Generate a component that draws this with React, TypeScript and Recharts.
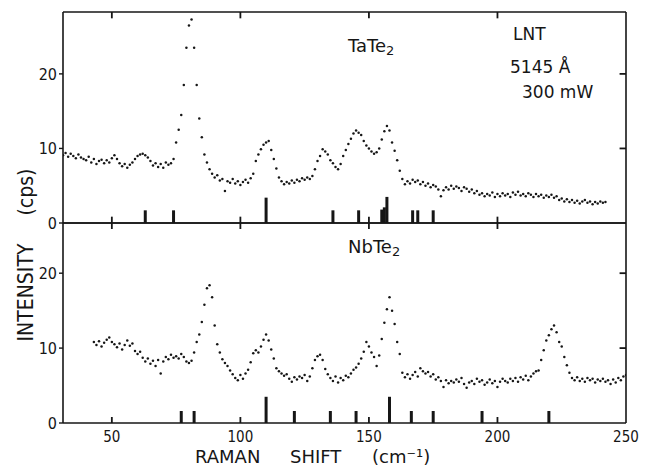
import React from 'react';
import { ScatterChart, Scatter, XAxis, YAxis, ReferenceLine } from 'recharts';

// Raman shift grid (cm-1) and intensities (cps) at 1 cm-1 steps
const tateStart = 30;
const tateCounts = [
  9.6, 9.1, 9.4, 8.9, 9.3, 9.0, 8.7, 9.2, 8.8, 8.6,
  8.4, 8.9, 8.1, 8.6, 7.9, 8.3, 8.5, 8.0, 8.4, 8.1,
  8.7, 9.1, 8.6, 8.0, 7.6, 7.9, 7.4, 7.8, 8.1,
  8.6, 9.0, 9.2, 9.3, 9.1, 8.8,
  8.3, 7.7, 8.0, 7.5, 7.9, 7.4, 8.1, 7.8, 8.0,
  8.6, 10.8, 12.5, 14.5, 18.5, 23.5, 26.5, 27.3, 23.5, 18.5,
  14.0, 11.5, 9.2, 8.1, 7.2, 6.6, 6.1, 6.4, 5.7, 5.9,
  4.3, 5.6, 5.4, 5.9, 5.3, 5.6, 5.1, 5.5, 5.8, 5.4,
  6.0, 6.6, 8.3, 9.2, 9.9, 10.5, 10.8, 11.0, 9.8, 8.6,
  7.3, 6.1, 5.6, 5.2, 5.5, 5.3, 5.7, 5.4, 5.8, 5.6,
  6.0, 5.8, 6.1, 5.9, 6.3, 7.2, 8.3, 9.0, 9.9, 9.6,
  9.2, 8.4, 8.0, 7.5, 7.2, 7.9, 9.0, 9.8, 10.6, 11.3,
  12.0, 12.4, 12.1, 11.8, 11.0, 10.4, 10.0, 9.6, 9.3, 9.5,
  10.0, 11.2, 12.3, 13.0, 12.4, 10.8, 9.7, 8.4, 7.0, 5.9,
  5.2, 5.6, 5.3, 5.8, 5.5, 5.7, 5.2, 5.5, 5.0, 5.3,
  4.8, 5.1, 4.9, 4.5, 3.6, 4.4, 4.8, 4.5, 5.0, 4.6,
  4.9, 4.7, 4.3, 4.8, 4.6, 4.2, 4.5, 4.0, 4.3, 3.8,
  4.0, 3.6, 3.9, 3.7, 4.1, 3.5, 3.9, 3.6, 4.0, 3.7,
  3.9, 3.5, 4.1, 3.8, 4.2, 3.7, 3.9, 3.6, 4.0, 3.8,
  3.5, 3.9, 3.6, 3.8, 3.4, 3.7, 3.5, 3.8, 3.4, 3.6,
  3.1, 3.3, 2.9, 3.2, 2.8, 3.1, 2.7, 3.0, 2.6, 2.9,
  3.1, 2.7, 2.9, 2.5, 2.8, 2.6, 2.9, 2.7, 2.8,
];

const nbteStart = 43;
const nbteCounts = [
  10.8, 10.4, 10.9, 10.2, 10.7, 11.1, 11.4,
  10.8, 10.5, 10.1, 10.6, 9.8, 10.4, 11.0, 10.3, 10.6, 9.6,
  9.2, 9.5, 8.7, 8.2, 8.6, 7.9, 8.3, 7.6, 8.4, 6.6,
  8.2, 8.8, 8.5, 9.1, 8.7, 8.9, 8.6, 9.2, 8.8, 8.2,
  8.0, 8.3, 9.4, 10.8, 11.8, 13.5, 15.8, 18.0, 18.4, 16.8,
  13.0, 10.5, 9.4, 8.5, 8.0, 7.6, 7.0, 6.5, 6.0, 5.7,
  6.4, 5.9, 6.6, 7.1, 8.1, 9.3, 9.7, 9.4, 10.2, 11.1,
  11.8, 11.0, 9.8, 8.6, 7.3, 6.9, 6.6, 6.3, 6.5, 5.9,
  5.5, 6.1, 5.8, 6.2, 6.0, 6.4, 5.6, 6.2, 7.3, 8.4,
  8.9, 9.1, 8.4, 7.2, 6.5, 6.0, 5.6, 6.2, 5.4, 6.0,
  5.7, 6.3, 6.1, 6.6, 7.1, 7.4, 7.9, 8.6, 9.5, 10.8,
  10.2, 9.4, 8.8, 7.6, 9.0, 11.2, 13.4, 15.2, 16.8, 15.0,
  13.2, 10.8, 9.2, 6.7, 6.1, 6.5, 5.9, 6.4, 6.8, 6.2,
  7.3, 6.9, 6.6, 6.8, 6.2, 6.5, 5.8, 6.1, 5.6, 4.8,
  5.7, 5.3, 5.6, 5.4, 5.8, 5.5, 6.0, 5.2, 4.7, 5.4,
  5.6, 5.2, 5.9, 5.5, 5.7, 5.1, 5.4, 5.8, 5.3, 5.6,
  4.8, 5.5, 5.9, 5.6, 5.4, 5.9, 5.6, 6.0, 5.5, 6.1,
  5.8, 6.3, 5.7, 6.2, 6.6, 6.9, 7.0, 8.4, 9.7, 11.0,
  11.7, 12.5, 13.0, 12.1, 10.8, 10.2, 8.8, 7.7, 6.7, 6.0,
  5.7, 6.1, 5.6, 5.9, 5.5, 6.0, 5.7, 5.9, 5.4, 5.8,
  5.6, 5.9, 5.5, 5.7, 5.2, 5.8, 5.4, 6.0, 5.7, 6.2,
  6.4,
];

// calculated mode positions (stick marks) and their heights
const tateModes = [63, 74, 110, 136, 146, 155, 156, 157, 167, 169, 175];
const tateModeHeights = [1.7, 1.7, 3.4, 1.7, 1.7, 1.8, 2.1, 3.5, 1.7, 1.7, 1.7];
const nbteModes = [77, 82, 110, 121, 135, 145, 158, 166.5, 175, 194, 220];
const nbteModeHeights = [1.6, 1.6, 3.5, 1.6, 1.6, 1.6, 3.5, 1.6, 1.6, 1.6, 1.6];

const shiftDomain: [number, number] = [31, 250];
const shiftTicks = [50, 100, 150, 200, 250];
const countTicks = [0, 10, 20];

const ink = '#161616';
const narrow = '"DejaVu Sans Condensed", "Liberation Sans Narrow", "DejaVu Sans", sans-serif';
const plain = '"DejaVu Sans", "Liberation Sans", sans-serif';

const toPoints = (start: number, counts: number[]) =>
  counts.map((y, i) => ({ x: start + i, y }));

const ShiftLabel = ({ x, y, payload }: any) => (
  <text x={x} y={y + 15} textAnchor="middle" fontSize={15} fill={ink} fontFamily={narrow}>
    {payload.value}
  </text>
);

const CountLabel = ({ x, y, payload }: any) => (
  <text x={x} y={y + 6} textAnchor="end" fontSize={16} fill={ink} fontFamily={narrow}>
    {payload.value}
  </text>
);

const dot = (p: any) => <circle cx={p.cx} cy={p.cy} r={1.25} fill={ink} />;

interface PanelProps {
  points: { x: number; y: number }[];
  modes: number[];
  heights: number[];
  yMax: number;
  height: number;
  marginBottom: number;
  showShiftLabels: boolean;
}

function Panel({ points, modes, heights, yMax, height, marginBottom, showShiftLabels }: PanelProps) {
  const axisLine = { stroke: ink, strokeWidth: 1.6 };
  const tickLine = { stroke: ink, strokeWidth: 1.4 };
  // inward tick length, in data units (~6px)
  const yIn = yMax * 0.03;
  const xIn = 2.5;
  return (
    <ScatterChart
      width={651}
      height={height}
      margin={{ top: 2, right: 25, bottom: marginBottom, left: 3 }}
    >
      <XAxis
        dataKey="x"
        type="number"
        domain={shiftDomain}
        ticks={shiftTicks}
        interval={0}
        allowDataOverflow
        height={showShiftLabels ? 43 : 2}
        axisLine={axisLine}
        tickLine={false}
        tickSize={4}
        tickMargin={0}
        tick={showShiftLabels ? (p: any) => <ShiftLabel {...p} /> : false}
      />
      <XAxis
        xAxisId="top"
        orientation="top"
        type="number"
        domain={shiftDomain}
        allowDataOverflow
        mirror
        axisLine={axisLine}
        tickLine={false}
        tick={false}
      />
      <YAxis
        dataKey="y"
        type="number"
        domain={[0, yMax]}
        ticks={countTicks}
        interval={0}
        allowDataOverflow
        width={60}
        axisLine={axisLine}
        tickLine={tickLine}
        tickSize={4}
        tickMargin={2}
        tick={(p: any) => <CountLabel {...p} />}
      />
      <YAxis
        yAxisId="right"
        orientation="right"
        type="number"
        domain={[0, yMax]}
        allowDataOverflow
        mirror
        axisLine={axisLine}
        tickLine={false}
        tick={false}
      />
      {/* inward ticks on the bottom, top and right sides of the frame */}
      {shiftTicks.filter((t) => t < shiftDomain[1]).map((t) => (
        <ReferenceLine
          key={`tb-${t}`}
          segment={[{ x: t, y: 0 }, { x: t, y: yIn }]}
          stroke={ink}
          strokeWidth={1.8}
          ifOverflow="visible"
        />
      ))}
      {shiftTicks.filter((t) => t < shiftDomain[1]).map((t) => (
        <ReferenceLine
          key={`tt-${t}`}
          segment={[{ x: t, y: yMax }, { x: t, y: yMax - yIn }]}
          stroke={ink}
          strokeWidth={1.8}
          ifOverflow="visible"
        />
      ))}
      {countTicks.filter((t) => t > 0).map((t) => (
        <ReferenceLine
          key={`tr-${t}`}
          segment={[{ x: shiftDomain[1], y: t }, { x: shiftDomain[1] - xIn, y: t }]}
          stroke={ink}
          strokeWidth={1.8}
          ifOverflow="visible"
        />
      ))}
      {modes.map((m, i) => (
        <ReferenceLine
          key={`mode-${i}`}
          segment={[{ x: m, y: 0 }, { x: m, y: heights[i] }]}
          stroke={ink}
          strokeWidth={3}
        />
      ))}
      <Scatter data={points} shape={dot} isAnimationActive={false} />
    </ScatterChart>
  );
}

export default function App() {
  return (
    <div style={{ position: 'absolute', left: 0, top: 0, width: 651, height: 466, background: '#fff' }}>
      <div style={{ position: 'absolute', left: 0, top: 10 }}>
        <Panel
          points={toPoints(tateStart, tateCounts)}
          modes={tateModes}
          heights={tateModeHeights}
          yMax={28.3}
          height={245}
          marginBottom={30}
          showShiftLabels={false}
        />
      </div>
      <div style={{ position: 'absolute', left: 0, top: 221 }}>
        <Panel
          points={toPoints(nbteStart, nbteCounts)}
          modes={nbteModes}
          heights={nbteModeHeights}
          yMax={26.7}
          height={245}
          marginBottom={0}
          showShiftLabels
        />
      </div>
      <svg
        width={651}
        height={466}
        style={{ position: 'absolute', left: 0, top: 0, pointerEvents: 'none' }}
      >
        <g fill={ink} fontFamily={plain}>
          <text x={348} y={52} fontSize={18}>
            TaTe<tspan fontSize={13} dy={3}>2</tspan>
          </text>
          <text x={348} y={253} fontSize={18}>
            NbTe<tspan fontSize={13} dy={3}>2</tspan>
          </text>
          <text x={513} y={40} fontSize={17}>LNT</text>
          <text x={510} y={73} fontSize={17}>5145 Å</text>
          <text x={522} y={98} fontSize={17}>300 mW</text>
          <text y={463} fontSize={18}>
            <tspan x={195}>RAMAN</tspan>
            <tspan x={290}>SHIFT</tspan>
            <tspan x={372}>(cm⁻¹)</tspan>
          </text>
          <text transform="translate(33,255) rotate(-90)" textAnchor="middle" fontSize={21} fontFamily={narrow}>
            <tspan>INTENSITY</tspan>
            <tspan dx={28}>(cps)</tspan>
          </text>
        </g>
      </svg>
    </div>
  );
}
